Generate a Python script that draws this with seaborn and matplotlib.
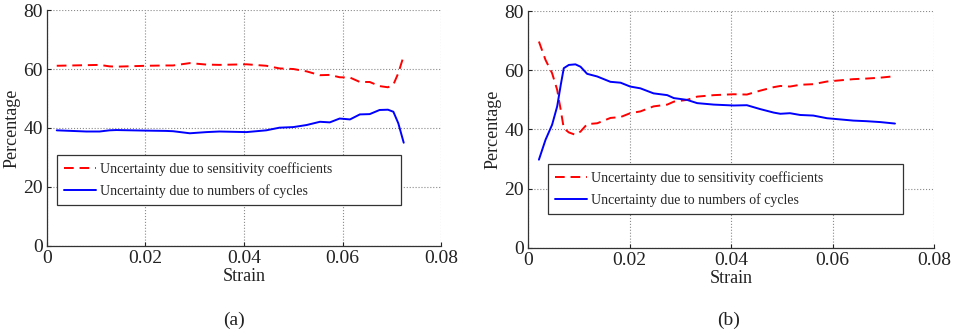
import matplotlib
matplotlib.use("Agg")
import matplotlib.pyplot as plt
import seaborn as sns
import pandas as pd

# ---------------- data ----------------
strain_a = [0.0020, 0.0080, 0.0107, 0.0127, 0.0141, 0.0202, 0.0242, 0.0256, 0.0290, 0.0324,
            0.0350, 0.0405, 0.0445, 0.0472, 0.0500, 0.0527, 0.0554, 0.0574, 0.0594, 0.0615,
            0.0635, 0.0655, 0.0675, 0.0692, 0.0703, 0.0713, 0.0724]
sens_a = [61.1, 61.3, 61.4, 60.9, 60.8, 61.1, 61.2, 61.2, 62.0, 61.5,
          61.4, 61.6, 61.1, 60.2, 60.0, 59.2, 57.9, 58.0, 57.2, 57.1,
          55.6, 55.6, 54.2, 53.8, 54.7, 58.6, 64.5]
cyc_a = [39.2, 38.8, 38.8, 39.2, 39.3, 39.1, 39.0, 38.9, 38.2, 38.6,
         38.8, 38.6, 39.2, 40.1, 40.3, 41.0, 42.1, 41.9, 43.2, 42.9,
         44.6, 44.7, 46.1, 46.2, 45.5, 41.6, 35.0]

strain_b = [0.0021, 0.0034, 0.0047, 0.0057, 0.0064, 0.0070, 0.0080, 0.0093, 0.0103, 0.0116,
            0.0136, 0.0162, 0.0182, 0.0201, 0.0221, 0.0247, 0.0274, 0.0287, 0.0313, 0.0333,
            0.0366, 0.0405, 0.0431, 0.0457, 0.0484, 0.0497, 0.0516, 0.0536, 0.0562, 0.0589,
            0.0615, 0.0641, 0.0667, 0.0694, 0.0723]
sens_b = [69.7, 63.5, 59.0, 53.4, 46.6, 40.4, 39.0, 38.2, 39.3, 41.8,
          42.1, 43.9, 44.2, 45.5, 46.1, 47.8, 48.4, 49.4, 50.0, 51.1,
          51.6, 51.9, 51.8, 53.1, 54.3, 54.7, 54.5, 55.1, 55.3, 56.2,
          56.6, 57.0, 57.2, 57.5, 58.0]
cyc_b = [29.8, 36.5, 41.6, 47.8, 55.0, 60.7, 61.8, 62.0, 61.2, 58.8,
         57.9, 56.1, 55.8, 54.5, 53.9, 52.2, 51.6, 50.6, 50.0, 48.9,
         48.4, 48.1, 48.2, 46.9, 45.7, 45.3, 45.5, 44.9, 44.7, 43.8,
         43.4, 43.0, 42.8, 42.5, 42.0]

label_sens = "Uncertainty due to sensitivity coefficients"
label_cyc = "Uncertainty due to numbers of cycles"
xticks = [0, 0.02, 0.04, 0.06, 0.08]
xticklabels = ["0", "0.02", "0.04", "0.06", "0.08"]
yticks = [0, 20, 40, 60, 80]
captions = ["(a)", "(b)"]

# ---------------- style ----------------
sns.set_style("white")
plt.rcParams["font.family"] = ["Liberation Serif", "DejaVu Serif"]

fig = plt.figure(figsize=(9.57, 3.35), dpi=100)
ax_a = fig.add_axes([0.049, 0.266, 0.412, 0.704])
ax_b = fig.add_axes([0.552, 0.260, 0.424, 0.707])

panels = [
    (ax_a, strain_a, sens_a, cyc_a, (0.025, 0.174, 0.873, 0.203), 0.245),
    (ax_b, strain_b, sens_b, cyc_b, (0.049, 0.143, 0.874, 0.211), 0.761),
]

for i, (ax, xs, s, c, lbox, cx) in enumerate(panels):
    df_s = pd.DataFrame({"Strain": xs, "Percentage": s})
    df_c = pd.DataFrame({"Strain": xs, "Percentage": c})
    sns.lineplot(data=df_s, x="Strain", y="Percentage", ax=ax, color="#ff0000",
                 linestyle=(0, (5, 3)), linewidth=1.4, label=label_sens)
    sns.lineplot(data=df_c, x="Strain", y="Percentage", ax=ax, color="#0000ff",
                 linewidth=1.4, label=label_cyc)
    ax.set_xlim(0, 0.08)
    ax.set_ylim(0, 80)
    ax.set_xticks(xticks)
    ax.set_xticklabels(xticklabels)
    ax.set_yticks(yticks)
    ax.grid(True, linestyle=":", color="#8a8a8a", linewidth=0.8)
    for sp in ["top", "right"]:
        ax.spines[sp].set_visible(False)
    for sp in ["left", "bottom"]:
        ax.spines[sp].set_color("#333333")
        ax.spines[sp].set_linewidth(0.9)
    ax.tick_params(axis="both", labelsize=14, colors="#222222", direction="in",
                   length=3, pad=3, left=True, bottom=True)
    ax.set_xlabel("Strain", fontsize=13, labelpad=1, color="#222222")
    ax.set_ylabel("Percentage", fontsize=13, labelpad=2, color="#222222")
    leg = ax.legend(loc="lower left", bbox_to_anchor=lbox, mode="expand",
                    fontsize=10, frameon=True, fancybox=False, borderpad=0.5,
                    handlelength=2.3, handletextpad=0.3, labelspacing=0.6,
                    borderaxespad=0)
    leg.get_frame().set_edgecolor("#333333")
    leg.get_frame().set_linewidth(0.9)
    leg.get_frame().set_alpha(1)
    fig.text(cx, 0.045, captions[i], ha="center", va="center", fontsize=14,
             color="#222222")

fig.savefig("out.png", dpi=100)
